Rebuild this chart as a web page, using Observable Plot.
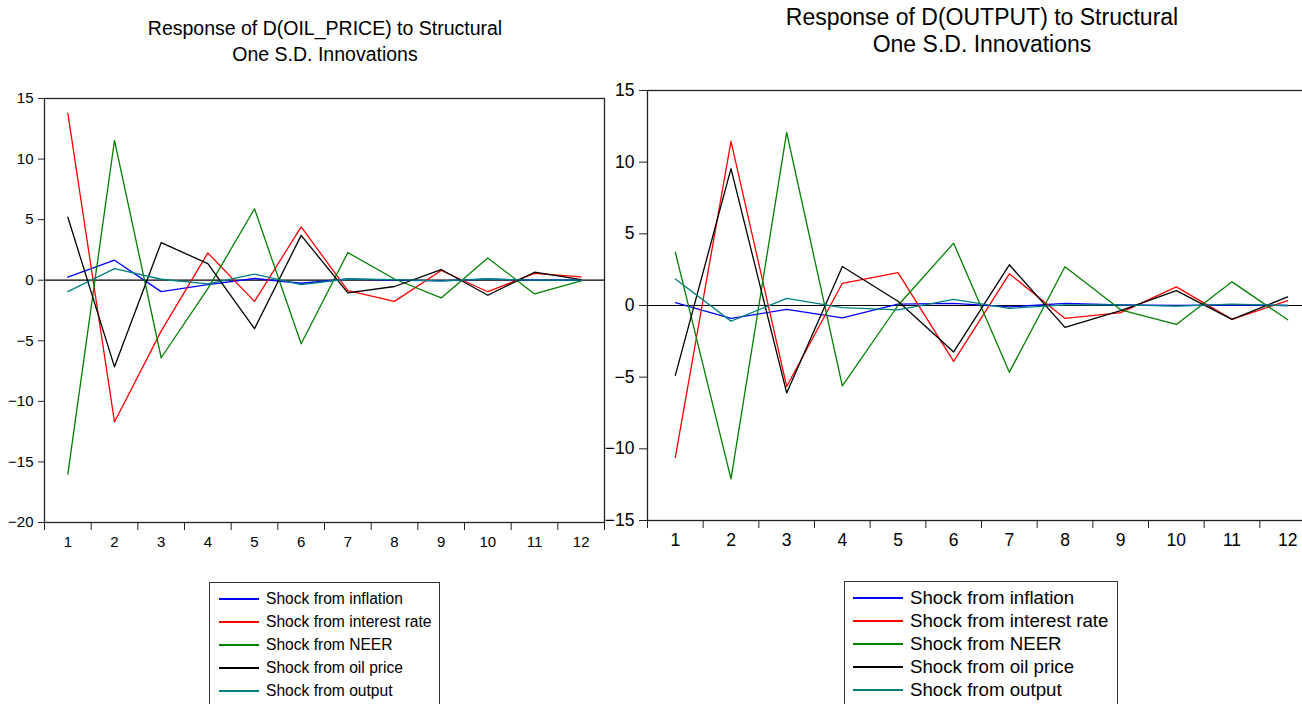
<!DOCTYPE html>
<html>
<head>
<meta charset="utf-8">
<script src="https://cdn.jsdelivr.net/npm/d3@7"></script>
<script src="https://cdn.jsdelivr.net/npm/@observablehq/plot@0.6"></script>
<style>
  html, body { margin: 0; padding: 0; background: #fff; }
  body { width: 1302px; height: 704px; overflow: hidden; position: relative; font-family: "Liberation Sans", Arial, sans-serif; color: #000; }
  .abs { position: absolute; }
  .title { text-align: center; white-space: nowrap; }
  .legend { border: 1px solid #333; background: #fff; box-sizing: border-box; }
  .legend .row { display: flex; align-items: center; white-space: nowrap; }
  .legend .swatch { display: inline-block; height: 2px; }
</style>
</head>
<body>
<script>
// ---------- data ----------
const periods = [1, 2, 3, 4, 5, 6, 7, 8, 9, 10, 11, 12];
const seriesNames = ["Shock from inflation", "Shock from interest rate", "Shock from NEER", "Shock from oil price", "Shock from output"];
const seriesColors = ["#0000ff", "#ff0000", "#008000", "#000000", "#008080"];

// Response of D(OIL_PRICE)
const oilInflation = [0.25, 1.65, -0.94, -0.36, 0.14, -0.25, 0.1, 0.0, -0.05, 0.1, 0.0, 0.0];
const oilInterest  = [13.8, -11.7, -4.2, 2.25, -1.75, 4.4, -0.85, -1.75, 0.8, -0.95, 0.57, 0.27];
const oilNeer      = [-16.0, 11.55, -6.4, -0.7, 5.9, -5.25, 2.28, 0.1, -1.46, 1.84, -1.13, -0.05];
const oilOilPrice  = [5.2, -7.15, 3.1, 1.37, -4.0, 3.7, -1.05, -0.52, 0.88, -1.24, 0.66, 0.05];
const oilOutput    = [-0.94, 0.96, 0.08, -0.3, 0.5, -0.36, 0.1, 0.05, -0.05, 0.1, 0.0, 0.0];
const oilYTicks = [-20, -15, -10, -5, 0, 5, 10, 15];

// Response of D(OUTPUT)
const outInflation = [0.2, -0.9, -0.27, -0.86, 0.1, 0.15, -0.1, 0.15, 0.05, 0.0, 0.05, 0.0];
const outInterest  = [-10.6, 11.45, -5.65, 1.55, 2.3, -3.9, 2.21, -0.9, -0.5, 1.3, -0.97, 0.34];
const outNeer      = [3.72, -12.1, 12.08, -5.6, 0.0, 4.35, -4.65, 2.7, -0.3, -1.32, 1.65, -1.0];
const outOilPrice  = [-4.88, 9.55, -6.1, 2.72, 0.3, -3.24, 2.84, -1.53, -0.35, 1.04, -0.97, 0.6];
const outOutput    = [1.85, -1.09, 0.5, -0.15, -0.3, 0.43, -0.2, 0.05, 0.05, -0.05, 0.1, 0.0];
const outYTicks = [-15, -10, -5, 0, 5, 10, 15];

// ---------- helpers ----------
function toRows(seriesArrays) {
  const rows = [];
  seriesArrays.forEach((arr, si) => {
    arr.forEach((v, i) => rows.push({ period: periods[i], value: v, series: seriesNames[si] }));
  });
  return rows;
}
const boundaries = [0, ...periods].map(p => p + 0.5);

function makeChart(cfg) {
  return Plot.plot({
    width: cfg.width,
    height: cfg.height,
    marginLeft: cfg.marginLeft,
    marginRight: cfg.marginRight,
    marginTop: cfg.marginTop,
    marginBottom: cfg.marginBottom,
    x: { domain: [0.5, 12.5] },
    y: { domain: cfg.yDomain },
    color: { domain: seriesNames, range: seriesColors },
    style: { fontFamily: "'Liberation Sans', Arial, sans-serif", fontSize: cfg.fontSize + "px", color: "#000", background: "transparent", overflow: "visible" },
    marks: [
      Plot.ruleY([0], { stroke: "#000", strokeWidth: 1.2 }),
      Plot.line(cfg.rows, { x: "period", y: "value", z: "series", stroke: "series", strokeWidth: 1.3 }),
      Plot.frame({ stroke: "#222", strokeWidth: 1.3 }),
      Plot.axisY(cfg.yTicks, { tickSize: cfg.yTickSize, tickPadding: 5, label: null, stroke: "#222" }),
      Plot.axisX(boundaries, { tickSize: 8, tickFormat: () => "", label: null, stroke: "#222" }),
      Plot.axisX(periods, { tickSize: 0, tickPadding: cfg.xPad, label: null })
    ]
  });
}

function place(el, left, top) {
  el.classList.add("abs");
  el.style.left = left + "px";
  el.style.top = top + "px";
  document.body.appendChild(el);
}

function makeTitle(lines, left, width, top, size, lh) {
  const d = document.createElement("div");
  d.className = "title";
  d.style.width = width + "px";
  d.style.fontSize = size + "px";
  d.style.lineHeight = lh + "px";
  d.innerHTML = lines.join("<br>");
  place(d, left, top);
}

function makeLegend(left, top, width, size, rowH, padTop, lineW, padLeft, gap) {
  const box = document.createElement("div");
  box.className = "legend";
  box.style.width = width + "px";
  box.style.height = "200px";
  box.style.paddingTop = padTop + "px";
  box.style.paddingLeft = padLeft + "px";
  box.style.fontSize = size + "px";
  seriesNames.forEach((name, i) => {
    const row = document.createElement("div");
    row.className = "row";
    row.style.height = rowH + "px";
    const sw = document.createElement("span");
    sw.className = "swatch";
    sw.style.width = lineW + "px";
    sw.style.background = seriesColors[i];
    sw.style.marginRight = gap + "px";
    const tx = document.createElement("span");
    tx.textContent = name;
    row.appendChild(sw);
    row.appendChild(tx);
    box.appendChild(row);
  });
  place(box, left, top);
}

// ---------- left chart ----------
makeTitle(["Response of D(OIL_PRICE) to Structural", "One S.D. Innovations"], 0, 650, 15, 19.5, 26);
const left = makeChart({
  rows: toRows([oilInflation, oilInterest, oilNeer, oilOilPrice, oilOutput]),
  width: 614, height: 492, marginLeft: 44, marginRight: 10, marginTop: 28, marginBottom: 40,
  yDomain: [-20, 15], yTicks: oilYTicks, fontSize: 15, xPad: 14, yTickSize: 6
});
place(left, 0, 70);
makeLegend(209, 582, 231, 15.6, 23, 4, 40, 9, 7);

// ---------- right chart ----------
makeTitle(["Response of D(OUTPUT) to Structural", "One S.D. Innovations"], 682, 600, 4, 23, 27);
const right = makeChart({
  rows: toRows([outInflation, outInterest, outNeer, outOilPrice, outOutput]),
  width: 724, height: 498, marginLeft: 47, marginRight: 9, marginTop: 28, marginBottom: 40,
  yDomain: [-15, 15], yTicks: outYTicks, fontSize: 17.5, xPad: 13, yTickSize: 8
});
place(right, 600, 62);
makeLegend(844, 581, 274, 18.7, 23, 4, 50, 8, 7);
</script>
</body>
</html>
